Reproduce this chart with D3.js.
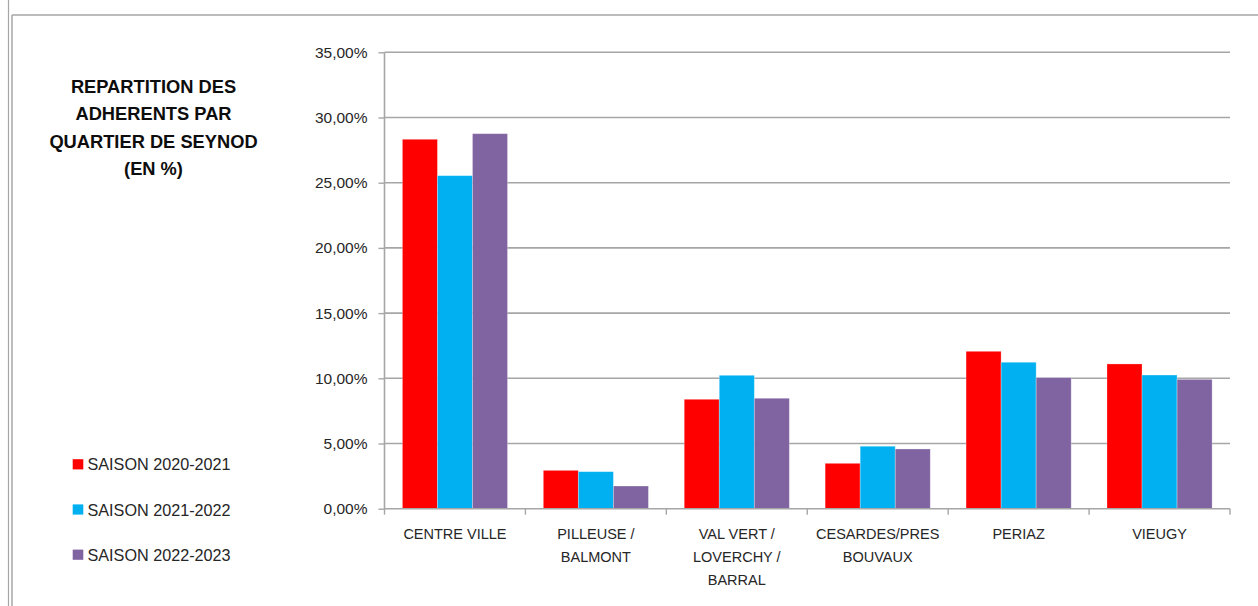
<!DOCTYPE html>
<html>
<head>
<meta charset="utf-8">
<script src="https://cdn.jsdelivr.net/npm/d3@7/dist/d3.min.js"></script>
<style>
  html, body { margin: 0; padding: 0; background: #fff; }
  svg { display: block; }
  text { font-family: "Liberation Sans", Arial, sans-serif; }
</style>
</head>
<body>
<svg id="chart" width="1258" height="606"></svg>
<script>
// ---- data ----
const categories = ["CENTRE VILLE", "PILLEUSE / BALMONT", "VAL VERT / LOVERCHY / BARRAL", "CESARDES/PRES BOUVAUX", "PERIAZ", "VIEUGY"];
const categoryLines = [["CENTRE VILLE"], ["PILLEUSE /", "BALMONT"], ["VAL VERT /", "LOVERCHY /", "BARRAL"], ["CESARDES/PRES", "BOUVAUX"], ["PERIAZ"], ["VIEUGY"]];
const seriesNames = ["SAISON 2020-2021", "SAISON 2021-2022", "SAISON 2022-2023"];
const saison2020_2021 = [0.2833, 0.0294, 0.0839, 0.0348, 0.1207, 0.1110];
const saison2021_2022 = [0.2554, 0.0284, 0.1023, 0.0479, 0.1123, 0.1025];
const saison2022_2023 = [0.2876, 0.0174, 0.0847, 0.0458, 0.1005, 0.0992];
const seriesValues = [saison2020_2021, saison2021_2022, saison2022_2023];
const seriesColors = ["#ff0000", "#00b0f0", "#8064a2"];
const yTicks = [0, 0.05, 0.10, 0.15, 0.20, 0.25, 0.30, 0.35];
const titleLines = ["REPARTITION DES", "ADHERENTS PAR", "QUARTIER DE SEYNOD", "(EN %)"];

// ---- layout ----
const svg = d3.select("#chart");
const plot = { left: 384.5, right: 1230, top: 52.3, bottom: 508.7 };

// outer frame lines
svg.append("line").attr("x1", 8.5).attr("x2", 8.5).attr("y1", 0).attr("y2", 606)
  .attr("stroke", "#a6a6a6").attr("stroke-width", 1.2);
svg.append("line").attr("x1", 12).attr("x2", 12).attr("y1", 15).attr("y2", 606)
  .attr("stroke", "#a6a6a6").attr("stroke-width", 1.5);
svg.append("line").attr("x1", 12).attr("x2", 1258).attr("y1", 15).attr("y2", 15)
  .attr("stroke", "#a6a6a6").attr("stroke-width", 1.5);

const fr = d3.formatLocale({ decimal: ",", thousands: " ", grouping: [3], currency: ["", "€"] });
const fmt = fr.format(".2%");

const y = d3.scaleLinear().domain([0, 0.35]).range([plot.bottom, plot.top]);
const x0 = d3.scaleBand().domain(categories).range([plot.left, plot.right]).paddingInner(0).paddingOuter(0);
const x1 = d3.scaleBand().domain(d3.range(seriesNames.length))
  .range([x0.bandwidth() * 0.127, x0.bandwidth() * 0.873]).padding(0);

// gridlines
svg.append("g").selectAll("line").data(yTicks.filter(d => d > 0)).join("line")
  .attr("x1", plot.left).attr("x2", plot.right)
  .attr("y1", d => y(d)).attr("y2", d => y(d))
  .attr("stroke", "#a6a6a6").attr("stroke-width", 1.6);

// y axis
const yAxis = d3.axisLeft(y).tickValues(yTicks).tickFormat(fmt).tickSize(6).tickPadding(11);
const gy = svg.append("g").attr("transform", `translate(${plot.left},0)`).call(yAxis);
gy.select(".domain").attr("stroke", "#a6a6a6").attr("stroke-width", 1.6).attr("d", `M0,${plot.top}V${plot.bottom}`);
gy.selectAll(".tick line").attr("stroke", "#a6a6a6").attr("stroke-width", 1.4);
gy.selectAll(".tick text").attr("font-size", 15.5).attr("fill", "#262626")
  .attr("font-family", "Liberation Sans, Arial, sans-serif");

// bars
const groups = svg.append("g").selectAll("g").data(categories).join("g")
  .attr("transform", d => `translate(${x0(d)},0)`);
groups.selectAll("rect").data((d, i) => seriesValues.map((s, j) => ({ j, v: s[i] }))).join("rect")
  .attr("x", d => x1(d.j)).attr("width", x1.bandwidth())
  .attr("y", d => y(d.v)).attr("height", d => y(0) - y(d.v))
  .attr("fill", d => seriesColors[d.j])
  .attr("stroke", "rgba(255,255,255,0.35)").attr("stroke-width", 0.8);

// x axis
const xAxis = d3.axisBottom(x0).tickValues([]).tickSizeOuter(0);
const gx = svg.append("g").attr("transform", `translate(0,${plot.bottom})`).call(xAxis);
gx.select(".domain").attr("stroke", "#a6a6a6").attr("stroke-width", 1.6).attr("d", `M${plot.left},0H${plot.right}`);
const boundaries = categories.map(c => x0(c)).concat([plot.right]);
gx.selectAll("line.bt").data(boundaries).join("line").attr("class", "bt")
  .attr("x1", d => d).attr("x2", d => d).attr("y1", 0).attr("y2", 6)
  .attr("stroke", "#a6a6a6").attr("stroke-width", 1.4);

// category labels
const lab = svg.append("g").selectAll("text").data(categories).join("text")
  .attr("text-anchor", "middle").attr("font-size", 14.5).attr("fill", "#262626")
  .attr("x", d => x0(d) + x0.bandwidth() / 2);
lab.each(function (d, i) {
  const t = d3.select(this);
  categoryLines[i].forEach((ln, k) => {
    t.append("tspan").attr("x", x0(d) + x0.bandwidth() / 2)
      .attr("y", 534 + k * 23).attr("dy", "0.35em").text(ln);
  });
});

// title
svg.append("g").selectAll("text").data(titleLines).join("text")
  .attr("x", 153.5).attr("y", (d, i) => 86 + i * 27.6).attr("dy", "0.36em")
  .attr("text-anchor", "middle").attr("font-size", 18.3).attr("font-weight", "bold")
  .attr("fill", "#0d0d0d").text(d => d);

// legend
const leg = svg.append("g").selectAll("g").data(seriesNames).join("g")
  .attr("transform", (d, i) => `translate(0,${464.5 + i * 45.2})`);
leg.append("rect").attr("x", 72.7).attr("y", -5.3).attr("width", 10.6).attr("height", 10.2)
  .attr("fill", (d, i) => seriesColors[i]);
leg.append("text").attr("x", 87.5).attr("y", 0).attr("dy", "0.36em")
  .attr("font-size", 16.2).attr("fill", "#262626").text(d => d);
</script>
</body>
</html>
